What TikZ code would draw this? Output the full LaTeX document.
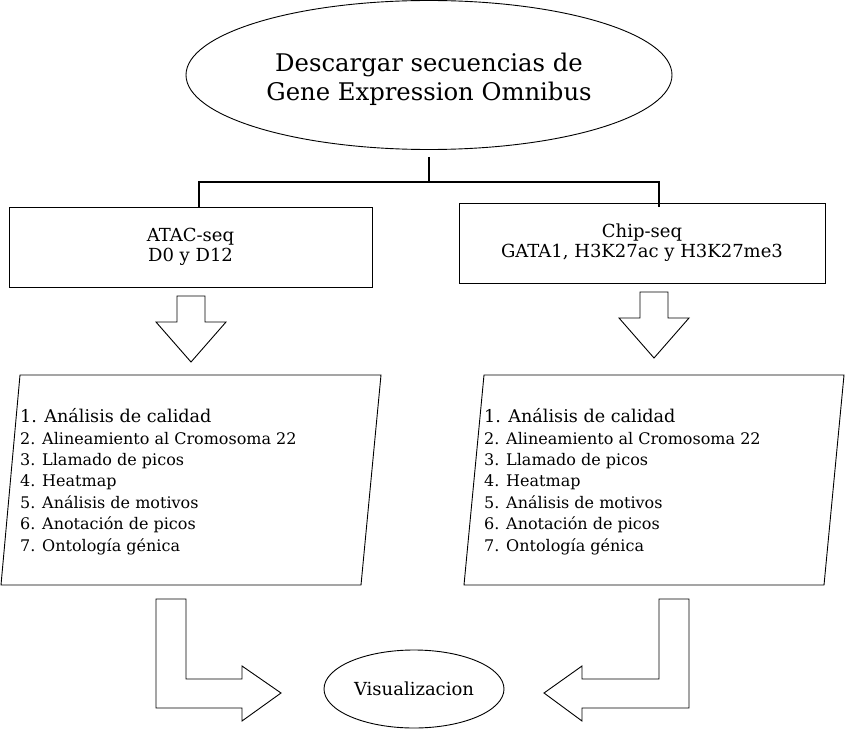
\documentclass[tikz,border=0pt]{standalone}
\usepackage{fontspec}
\setmainfont{DejaVu Serif}
\usetikzlibrary{positioning, shapes.geometric, calc}

\tikzset{
  outline/.style={draw=black, line width=0.9pt, line join=miter},
  bigoval/.style={outline, ellipse, inner sep=0pt, align=center},
  databox/.style={outline, rectangle, minimum height=80pt, inner sep=0pt,
                  align=center, font=\fontsize{18}{20}\selectfont},
  trunk/.style={draw=black, line width=1.8pt},
  blockarrow/.style={outline, fill=white},
  steplist/.style={anchor=base west, inner sep=0pt, align=left,
                   font=\fontsize{16}{21.4}\selectfont},
  procbox/.style={outline}
}

\begin{document}
\begin{tikzpicture}[x=1pt, y=-1pt]
  \useasboundingbox (0,0) rectangle (845,730);

  % fuente de datos
  \node[bigoval, minimum width=486pt, minimum height=149pt] (geo) at (429,75) {};
  \node[align=center, font=\fontsize{24.3}{29}\selectfont] (geotext)
    at ([yshift=-4.5pt]geo.center) {Descargar secuencias de\\Gene Expression Omnibus};

  % experimentos
  \node[databox, minimum width=363pt] (atac) at (190.5,247) {ATAC-seq\\D0 y D12};
  \node[databox, minimum width=366pt] (chip) at (642,243)
    {Chip-seq\\GATA1, H3K27ac y H3K27me3};

  % bifurcacion
  \coordinate (split) at (429,157);
  \coordinate (join) at (429,182);
  \draw[trunk] (split) -- (join);
  \draw[trunk] (join) -| ([xshift=8.5pt]atac.north);
  \draw[trunk] (join) -| ([xshift=17pt, yshift=-4pt]chip.north);

  % flechas hacia el analisis
  \draw[blockarrow] (177,296) -- (205,296) -- (205,322) -- (226,322)
    -- (191,362) -- (156,322) -- (177,322) -- cycle;
  \draw[blockarrow] (640,292) -- (668,292) -- (668,318) -- (689,318)
    -- (654,358) -- (619,318) -- (640,318) -- cycle;

  % pasos del analisis
  \draw[procbox] (20,375) -- (381,375) -- (361,585) -- (1,585) -- cycle;
  \draw[procbox] (484,375) -- (844,375) -- (824,585) -- (464,585) -- cycle;
  \node[steplist] (stepsA) at (20,551)
    {{\fontsize{17.6}{21.4}\selectfont 1. Análisis de calidad}\\
     2. Alineamiento al Cromosoma 22\\
     3. Llamado de picos\\
     4. Heatmap\\
     5. Análisis de motivos\\
     6. Anotación de picos\\
     7. Ontología génica};
  \node[steplist] (stepsB) at (484,551)
    {{\fontsize{17.6}{21.4}\selectfont 1. Análisis de calidad}\\
     2. Alineamiento al Cromosoma 22\\
     3. Llamado de picos\\
     4. Heatmap\\
     5. Análisis de motivos\\
     6. Anotación de picos\\
     7. Ontología génica};

  % resultado
  \node[bigoval, minimum width=180pt, minimum height=78pt,
        font=\fontsize{18}{20}\selectfont] (vis) at (414,689) {Visualizacion};

  \draw[blockarrow] (156,599) -- (186,599) -- (186,679) -- (242,679)
    -- (242,666) -- (281,693) -- (242,721) -- (242,708) -- (156,708) -- cycle;
  \draw[blockarrow] (689,599) -- (659,599) -- (659,679) -- (582,679)
    -- (582,666) -- (544,693) -- (582,721) -- (582,708) -- (689,708) -- cycle;
\end{tikzpicture}
\end{document}
